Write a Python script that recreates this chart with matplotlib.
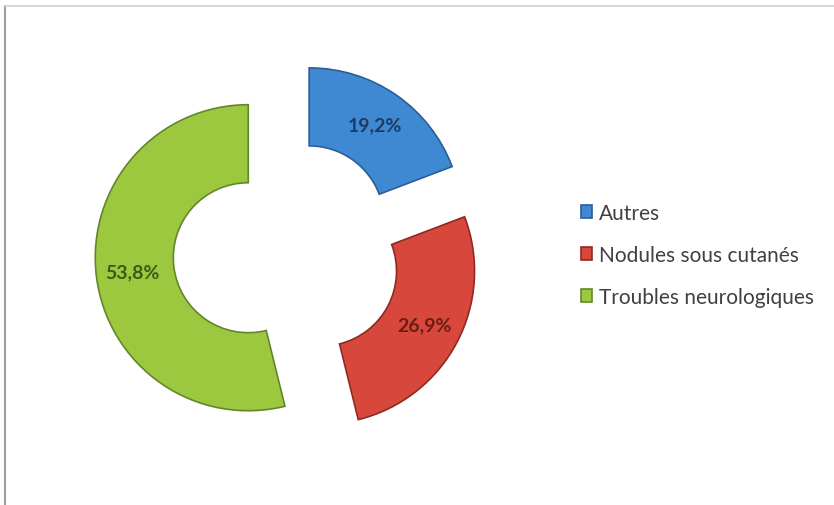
import matplotlib.pyplot as plt
from matplotlib.lines import Line2D

# Données
categories = ["Autres", "Nodules sous cutanés", "Troubles neurologiques"]
pourcentages = [19.2, 26.9, 53.8]
etiquettes = ["19,2%", "26,9%", "53,8%"]

couleurs = ["#3f88d2", "#d8473c", "#9cc83f"]
bords = ["#2a5f96", "#8e2a22", "#64862a"]
couleurs_texte = ["#1d3c63", "#6a1d17", "#3e5a17"]

plt.rcParams['font.family'] = ['Lato', 'DejaVu Sans']

W, H = 834, 506
fig = plt.figure(figsize=(W / 100, H / 100), dpi=100)

# centre du donut ~ (287, 254) px, rayon ~153 px
cx, cy, R = 287, 254, 153
lim = 1.6
taille = 2 * lim * R
ax = fig.add_axes([(cx - taille / 2) / W, (H - cy - taille / 2) / H, taille / W, taille / H])

textes = iter(etiquettes)
wedges, _, autotexts = ax.pie(
    pourcentages,
    colors=couleurs,
    startangle=90,
    counterclock=False,
    explode=[0.255] * 3,
    radius=1,
    autopct=lambda p: next(textes),
    pctdistance=0.76,
    wedgeprops=dict(width=0.51, linewidth=1.2),
)
for w, b in zip(wedges, bords):
    w.set_edgecolor(b)
for t, c in zip(autotexts, couleurs_texte):
    t.set_color(c)
    t.set_fontsize(14)
    t.set_fontweight('bold')

ax.set_xlim(-lim, lim)
ax.set_ylim(-lim, lim)
ax.set_aspect('equal')
ax.axis('off')

fig.legend(wedges, categories, loc='center left',
           bbox_to_anchor=(581 / W, 1 - 256 / H), frameon=False,
           borderaxespad=0, borderpad=0,
           fontsize=15, labelcolor='#404040', labelspacing=1.05,
           handlelength=0.55, handleheight=0.55, handletextpad=0.3)

# cadre du graphique
fig.add_artist(Line2D([5 / W, 5 / W], [0, 1 - 7 / H], color='#a0a0a0', lw=1.5))
fig.add_artist(Line2D([5 / W, 1], [1 - 7 / H, 1 - 7 / H], color='#d0d0d0', lw=1.2))

fig.savefig('out.png', dpi=100)
